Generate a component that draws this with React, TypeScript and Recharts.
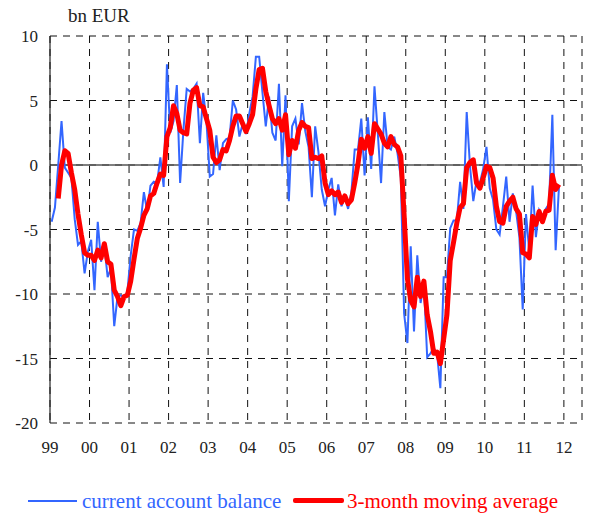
import React from 'react';
import { LineChart, Line, XAxis, YAxis, CartesianGrid, ReferenceLine, Legend } from 'recharts';

const YEAR_LABELS = ['99', '00', '01', '02', '03', '04', '05', '06', '07', '08', '09', '10', '11', '12'];
const Y_TICKS = [-20, -15, -10, -5, 0, 5, 10];

// Monthly current account balance, Jan 1999 - Nov 2011 (bn EUR)
const BALANCE = [
  -4.4, -3.3, 0.0, 3.4, -0.2, -0.6, -1.0, -4.2, -6.2, -5.9, -8.4, -6.7,
  -5.8, -9.7, -4.4, -7.5, -6.3, -8.7, -8.0, -12.5, -10.2, -10.1, -10.3, -9.8,
  -7.0, -5.0, -5.1, -4.5, -2.1, -3.6, -1.6, -1.3, -1.4, 0.6, -1.7, 7.8,
  2.5, 3.4, 6.2, -1.4, 2.7, 5.9, 5.7, 5.9, 6.3, 1.7, 5.6, 3.4,
  -0.9, -0.7, 2.3, -0.4, 1.7, 2.0, 2.1, 5.0, 4.3, 2.2, 3.2, 2.4,
  4.0, 5.3, 8.4, 8.4, 5.6, 3.0, 5.3, 2.5, 1.9, 6.3, -0.1, 5.4,
  -2.8, 3.0, 3.6, 1.6, 4.8, 2.6, 1.4, -2.5, 3.0, 1.0, -1.9, -3.2,
  -1.9, -1.0, -3.9, -1.5, -3.2, -2.5, -3.4, -2.1, 1.2, 1.2, 3.6, -0.8,
  3.7, -0.3, 6.1, 2.5, -1.4, 4.1, 1.4, 1.2, 2.2, 0.9, -1.0, -11.5,
  -13.8, -6.3, -12.9, -7.0, -10.7, -9.2, -14.9, -14.6, -14.2, -14.6, -17.3, -8.7,
  -8.7, -4.9, -4.3, -4.3, -1.3, -3.4, 4.1, -0.1, -2.8, -1.2, -1.4, -0.3,
  1.4, -1.8, -2.7, -5.0, -5.4, -3.2, -0.9, -4.4, -2.2, -3.6, -5.6, -11.2,
  -3.8, -6.7, -1.6, -5.6, -3.5, -4.0, -3.4, -3.0, 3.9, -6.6, -1.7,
];

// 3-month moving average (bn EUR)
const MOVING_AVG = [
  null, null, -2.6, 0.0, 1.1, 0.9, -0.6, -1.9, -3.8, -5.4, -6.8, -7.0,
  -7.0, -7.4, -6.6, -7.2, -6.1, -7.5, -7.7, -9.7, -10.2, -10.9, -10.2, -10.1,
  -9.0, -7.3, -5.7, -4.9, -3.9, -3.4, -2.4, -2.2, -1.4, -0.7, -0.8, 2.2,
  2.9, 4.6, 4.0, 2.7, 2.5, 2.4, 4.8, 5.8, 6.0, 4.6, 4.5, 3.6,
  2.7, 0.6, 0.2, 0.4, 1.2, 1.1, 1.9, 3.0, 3.8, 3.8, 3.2, 2.6,
  3.2, 3.9, 5.9, 7.4, 7.5, 5.7, 4.6, 3.6, 3.2, 3.6, 2.7, 3.9,
  0.8, 1.9, 1.3, 2.7, 3.3, 3.0, 2.9, 0.5, 0.6, 0.5, 0.7, -1.4,
  -2.3, -2.0, -2.3, -2.1, -2.9, -2.4, -3.0, -2.7, -1.4, 0.1, 2.0, 1.3,
  2.2, 0.9, 3.2, 2.8, 2.4, 1.7, 1.4, 2.2, 1.6, 1.4, 0.7, -3.9,
  -8.8, -10.5, -11.0, -8.7, -10.2, -9.0, -11.6, -12.9, -14.6, -14.5, -15.4, -13.5,
  -11.6, -7.4, -6.0, -4.5, -3.3, -3.0, -0.2, 0.2, 0.4, -1.4, -1.8, -1.0,
  -0.1, -0.2, -1.0, -3.2, -4.4, -4.5, -3.2, -2.8, -2.5, -3.4, -3.8, -6.8,
  -6.9, -7.2, -4.0, -4.6, -3.6, -4.4, -3.6, -3.5, -0.8, -1.9, -1.5,
];

const data = BALANCE.map((v, i) => ({ t: i + 0.5, balance: v, avg: MOVING_AVG[i] }));
const X_TICKS = YEAR_LABELS.map((_, k) => k * 12);

const FONT = 'Liberation Serif, DejaVu Serif, serif';
const BLUE = '#3366ff';
const RED = '#ff0000';

const LegendContent = () => (
  <div style={{ position: 'relative', width: 590, height: 26, fontFamily: FONT, fontSize: 21 }}>
    <div style={{ position: 'absolute', left: 28, top: 12, width: 49, height: 2, background: BLUE }} />
    <span style={{ position: 'absolute', left: 82, top: 0, lineHeight: '26px', color: BLUE, whiteSpace: 'nowrap' }}>
      current account balance
    </span>
    <div style={{ position: 'absolute', left: 293, top: 10, width: 51, height: 5, borderRadius: 2, background: RED }} />
    <span style={{ position: 'absolute', left: 347, top: 0, lineHeight: '26px', color: RED, whiteSpace: 'nowrap' }}>
      3-month moving average
    </span>
  </div>
);

export default function App() {
  return (
    <div style={{ position: 'absolute', left: 0, top: 0, width: 590, height: 514 }}>
      <LineChart
        width={590}
        height={514}
        data={data}
        margin={{ top: 36, right: 8, left: 0, bottom: 0 }}
        style={{ fontFamily: FONT }}
      >
        <CartesianGrid stroke="#111" strokeDasharray="7 6" />
        <XAxis
          dataKey="t"
          type="number"
          domain={[0, 161.5]}
          ticks={X_TICKS}
          tickFormatter={(v: number) => YEAR_LABELS[Math.round(v / 12)]}
          axisLine={false}
          tickLine={false}
          tickSize={0}
          tickMargin={18}
          height={65}
          interval={0}
          tick={{ fontFamily: FONT, fontSize: 17, fill: '#222' }}
        />
        <YAxis
          type="number"
          domain={[-20, 10]}
          ticks={Y_TICKS}
          width={50}
          axisLine={{ stroke: '#222', strokeWidth: 1.2 }}
          tickLine={false}
          tickSize={0}
          tickMargin={12}
          interval={0}
          tick={{ fontFamily: FONT, fontSize: 17, fill: '#222' }}
        />
        <ReferenceLine y={0} stroke="#555" strokeWidth={1.5} />
        <Line
          type="linear"
          dataKey="balance"
          stroke={BLUE}
          strokeWidth={2}
          dot={false}
          isAnimationActive={false}
        />
        <Line
          type="linear"
          dataKey="avg"
          stroke={RED}
          strokeWidth={5}
          strokeLinejoin="round"
          dot={false}
          connectNulls={false}
          isAnimationActive={false}
        />
        <Legend verticalAlign="bottom" align="left" content={<LegendContent />} wrapperStyle={{ left: 0, width: 590 }} />
        <text x={68} y={22} fontFamily={FONT} fontSize={19} fill="#222">bn EUR</text>
      </LineChart>
    </div>
  );
}
